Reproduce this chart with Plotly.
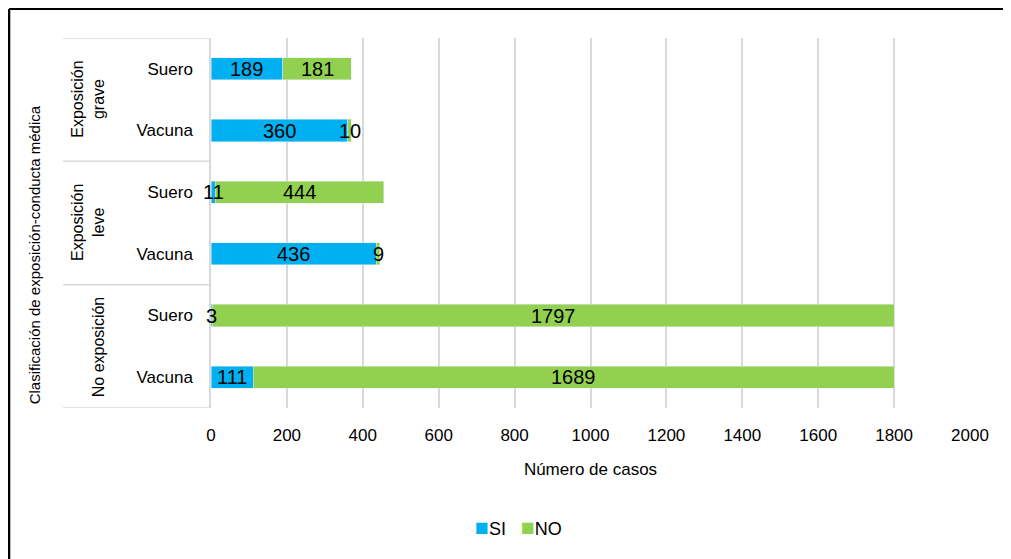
import plotly.graph_objects as go

# Datos del gráfico
grupos = ["Exposición<br>grave", "Exposición<br>leve", "No exposición"]
conductas = ["Suero", "Vacuna", "Suero", "Vacuna", "Suero", "Vacuna"]
si_casos = [189, 360, 11, 436, 3, 111]
no_casos = [181, 10, 444, 9, 1797, 1689]
x_ticks = [0, 200, 400, 600, 800, 1000, 1200, 1400, 1600, 1800, 2000]

AZUL = "#00B0F0"
VERDE = "#92D050"
GRIS = "#D9D9D9"
FUENTE = "Liberation Sans"

posiciones = list(range(len(conductas)))

fig = go.Figure()

# Barras apiladas
fig.add_trace(go.Bar(y=posiciones, x=si_casos, orientation="h", name="SI",
                     marker=dict(color=AZUL), width=0.36))
fig.add_trace(go.Bar(y=posiciones, x=no_casos, orientation="h", name="NO",
                     marker=dict(color=VERDE), width=0.36))

# Etiquetas de datos centradas en cada segmento (como anotaciones para que no se recorten)
for pos, s, n in zip(posiciones, si_casos, no_casos):
    fig.add_annotation(x=s / 2, y=pos, xref="x", yref="y", text=str(s),
                       showarrow=False, font=dict(size=20, color="black"))
    fig.add_annotation(x=s + n / 2, y=pos, xref="x", yref="y", text=str(n),
                       showarrow=False, font=dict(size=20, color="black"))

# la página tiene un margen de 8 px alrededor del gráfico
fig.update_layout(
    width=1003, height=551,
    margin=dict(l=203, r=41, t=30, b=151),
    paper_bgcolor="white", plot_bgcolor="white",
    barmode="stack", showlegend=False,
    font=dict(family=FUENTE, size=16, color="black"),
    xaxis=dict(
        range=[0, 2000], tickvals=x_ticks, showgrid=True, gridcolor=GRIS,
        gridwidth=1.5, zeroline=False, showline=False,
        ticklabelstandoff=15, tickfont=dict(size=17),
        title=dict(text="Número de casos", font=dict(size=17), standoff=19),
    ),
    yaxis=dict(
        range=[5.5, -0.5], tickvals=posiciones, ticktext=conductas,
        showgrid=False, zeroline=False, showline=True, linecolor=GRIS,
        linewidth=1.5, ticklabelstandoff=13, tickfont=dict(size=17),
    ),
)

# Divisiones de los grupos
for yv in [-0.5, 1.5, 3.5, 5.5]:
    fig.add_shape(type="line", xref="paper", yref="y", x0=-0.195, x1=0,
                  y0=yv, y1=yv, line=dict(color=GRIS, width=1.5))

# Etiquetas de grupo rotadas
grupo_x = [-0.162, -0.162, -0.149]
for i, g in enumerate(grupos):
    fig.add_annotation(text=g, xref="paper", yref="y", x=grupo_x[i], y=2 * i + 0.5,
                       textangle=-90, showarrow=False, font=dict(size=16),
                       xanchor="center", yanchor="middle")

# Título del eje Y
fig.add_annotation(text="Clasificación de exposición-conducta médica",
                   xref="paper", yref="paper", x=-0.232, y=0.415, textangle=-90,
                   showarrow=False, font=dict(size=15), xanchor="center",
                   yanchor="middle")

# Leyenda compacta
fig.add_annotation(
    text=f"<span style='color:{AZUL};font-size:23px'>■</span>SI   "
         f"<span style='color:{VERDE};font-size:23px'>■</span>NO",
    xref="paper", yref="paper", x=0.405, y=-0.322, showarrow=False,
    font=dict(size=18), xanchor="center", yanchor="middle")

# Marco (solo borde superior e izquierdo visibles)
fig.add_shape(type="line", xref="paper", yref="paper", x0=-0.2661, x1=-0.2661,
              y0=1.0784, y1=-0.45, line=dict(color="black", width=2.5))
fig.add_shape(type="line", xref="paper", yref="paper", x0=-0.2661, x1=1.1,
              y0=1.0784, y1=1.0784, line=dict(color="black", width=2))

fig.write_html("out.html")
